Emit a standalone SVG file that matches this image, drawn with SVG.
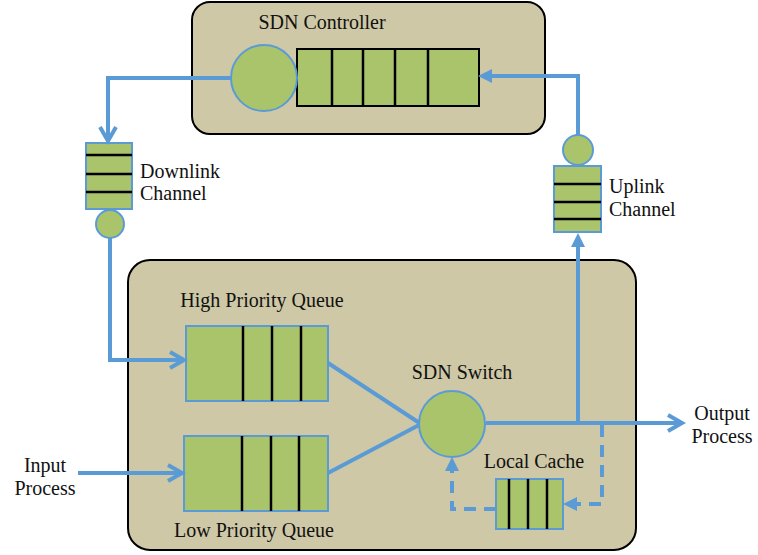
<svg xmlns="http://www.w3.org/2000/svg" width="758" height="555" viewBox="0 0 758 555">
<style>
.box{fill:#CEC8A6;stroke:#000;stroke-width:2}
.q{fill:#AAC46B;stroke:#5B9BD5;stroke-width:2}
.qb{fill:#AAC46B;stroke:#000;stroke-width:2}
.div{stroke:#000;stroke-width:2.5}
.c{fill:#AAC46B;stroke:#5B9BD5;stroke-width:2}
.ln{fill:none;stroke:#5B9BD5;stroke-width:4}
.dash{fill:none;stroke:#5B9BD5;stroke-width:4;stroke-dasharray:12 8}
.tri{fill:#5B9BD5}
.t{font-family:"Liberation Serif","DejaVu Serif",serif;font-size:20px;fill:#111}
</style>
<g id="controller">
<rect class="box" x="192" y="2" width="353" height="132" rx="18"/>
<text class="t" x="322" y="29" text-anchor="middle">SDN Controller</text>
<rect class="qb" x="297" y="49" width="182" height="57"/>
<line class="div" x1="332" y1="49" x2="332" y2="106"/>
<line class="div" x1="363" y1="49" x2="363" y2="106"/>
<line class="div" x1="395" y1="49" x2="395" y2="106"/>
<line class="div" x1="428" y1="49" x2="428" y2="106"/>
<circle class="c" cx="264" cy="78" r="33"/>
</g>
<g id="switchbox">
<rect class="box" x="128" y="260" width="508" height="290" rx="22"/>
</g>
<g id="downlink">
<rect class="q" x="86" y="143" width="46" height="66"/>
<line class="div" x1="86" y1="155" x2="132" y2="155"/>
<line class="div" x1="86" y1="174" x2="132" y2="174"/>
<line class="div" x1="86" y1="192" x2="132" y2="192"/>
<circle class="c" cx="110" cy="224" r="14"/>
<text class="t" x="140" y="178">Downlink</text>
<text class="t" x="140" y="200">Channel</text>
</g>
<g id="uplink">
<rect class="q" x="554" y="166" width="47" height="66"/>
<line class="div" x1="554" y1="184" x2="601" y2="184"/>
<line class="div" x1="554" y1="202" x2="601" y2="202"/>
<line class="div" x1="554" y1="219" x2="601" y2="219"/>
<circle class="c" cx="578" cy="150" r="15"/>
<text class="t" x="609" y="193">Uplink</text>
<text class="t" x="609" y="216">Channel</text>
</g>
<g id="highqueue">
<text class="t" x="262" y="307" text-anchor="middle">High Priority Queue</text>
<rect class="q" x="186" y="326" width="142" height="75"/>
<line class="div" x1="243" y1="326" x2="243" y2="401"/>
<line class="div" x1="272" y1="326" x2="272" y2="401"/>
<line class="div" x1="301" y1="326" x2="301" y2="401"/>
</g>
<g id="lowqueue">
<rect class="q" x="184" y="436" width="144" height="75"/>
<line class="div" x1="242" y1="436" x2="242" y2="511"/>
<line class="div" x1="271" y1="436" x2="271" y2="511"/>
<line class="div" x1="299" y1="436" x2="299" y2="511"/>
<text class="t" x="254" y="537" text-anchor="middle">Low Priority Queue</text>
</g>
<g id="switch">
<text class="t" x="462" y="379" text-anchor="middle">SDN Switch</text>
</g>
<g id="cache">
<text class="t" x="534" y="468" text-anchor="middle">Local Cache</text>
<rect class="q" x="496" y="479" width="67" height="50"/>
<line class="div" x1="509" y1="479" x2="509" y2="529"/>
<line class="div" x1="528" y1="479" x2="528" y2="529"/>
<line class="div" x1="547" y1="479" x2="547" y2="529"/>
</g>
<g id="labels">
<text class="t" x="722" y="420" text-anchor="middle">Output</text>
<text class="t" x="722" y="443" text-anchor="middle">Process</text>
<text class="t" x="45" y="472" text-anchor="middle">Input</text>
<text class="t" x="45" y="495" text-anchor="middle">Process</text>
</g>
<g id="connectors">
<polyline class="ln" points="231,78 108,78 108,141"/>
<polyline class="ln" points="100,127 108,141 116,127" stroke-linejoin="miter"/>
<polyline class="ln" points="578,135 578,76 490,76"/>
<polygon class="tri" points="478,76 492,69 492,83"/>
<polyline class="ln" points="110,238 110,360 184,360"/>
<polyline class="ln" points="170,352 184,360 170,368"/>
<polyline class="ln" points="78,473 182,473"/>
<polyline class="ln" points="168,465 182,473 168,481"/>
<line class="ln" x1="328" y1="363" x2="421" y2="424"/>
<line class="ln" x1="328" y1="473" x2="421" y2="424"/>
<polyline class="ln" points="486,423 682,423"/>
<polyline class="ln" points="668,415 682,423 668,431"/>
<polyline class="ln" points="578,423 578,244"/>
<polygon class="tri" points="578,233 571,247 585,247"/>
<polyline class="dash" points="602,425 602,504 576,504"/>
<polygon class="tri" points="563,504 577,497 577,511"/>
<polyline class="dash" points="496,509 452,509 452,470"/>
<polygon class="tri" points="452,457 445,471 459,471"/>
<circle class="c" cx="452" cy="424" r="33"/>
</g>
</svg>
